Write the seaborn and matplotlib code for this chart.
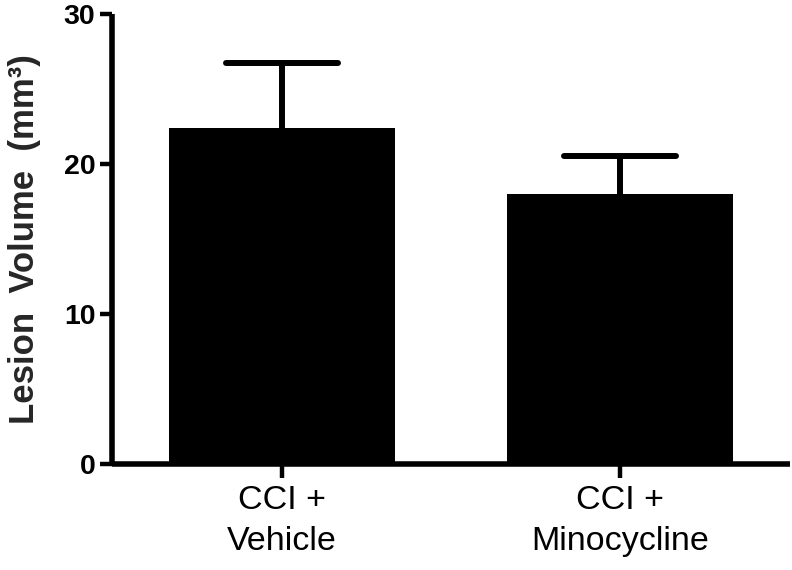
import matplotlib
matplotlib.use("Agg")
import matplotlib.pyplot as plt
import seaborn as sns
import pandas as pd
import numpy as np

groups = ["CCI +\nVehicle", "CCI +\nMinocycline"]
means = [22.42, 18.0]
sem = [4.29, 2.55]
yticks = [0, 10, 20, 30]

sns.set_theme(style="ticks")
plt.rcParams['font.family'] = ['Liberation Sans', 'DejaVu Sans']

df = pd.DataFrame({"group": groups, "value": means})

fig = plt.figure(figsize=(7.92, 5.70), dpi=100)
ax = fig.add_axes([0.1414, 0.186, 0.8561, 0.7894])

sns.barplot(data=df, x="group", y="value", color="black", saturation=1,
            width=0.666, errorbar=None, ax=ax, edgecolor="black", linewidth=0)

xpos = np.arange(len(groups))
ax.errorbar(xpos, means, yerr=[np.zeros(len(sem)), sem], fmt="none",
            ecolor="black", elinewidth=4.3, capsize=0, zorder=3)
tops = np.array(means) + np.array(sem)
caps = ax.hlines(tops, xpos - 0.166, xpos + 0.166, colors="black", linewidth=4.3, zorder=3)
caps.set_capstyle("round")

ax.set_xlim(-0.503, 1.503)
ax.set_ylim(0, 30)
ax.set_yticks(yticks)
ax.set_yticklabels([str(t) for t in yticks], fontweight="bold", fontsize=20.5)
ax.set_xlabel("")
ax.set_ylabel("Lesion  Volume  (mm³)", fontweight="bold", fontsize=25, labelpad=16)

for s in ["top", "right"]:
    ax.spines[s].set_visible(False)
for s in ["left", "bottom"]:
    ax.spines[s].set_linewidth(4.0)
    ax.spines[s].set_color("black")
    ax.spines[s].set_capstyle("butt")

ax.tick_params(axis="y", width=3.2, length=9, pad=3, colors="black")
ax.tick_params(axis="x", width=3.2, length=10, pad=5, colors="black", labelsize=24.5)
for lab in ax.get_xticklabels():
    lab.set_linespacing(1.42)

fig.savefig("out.png", dpi=100)
